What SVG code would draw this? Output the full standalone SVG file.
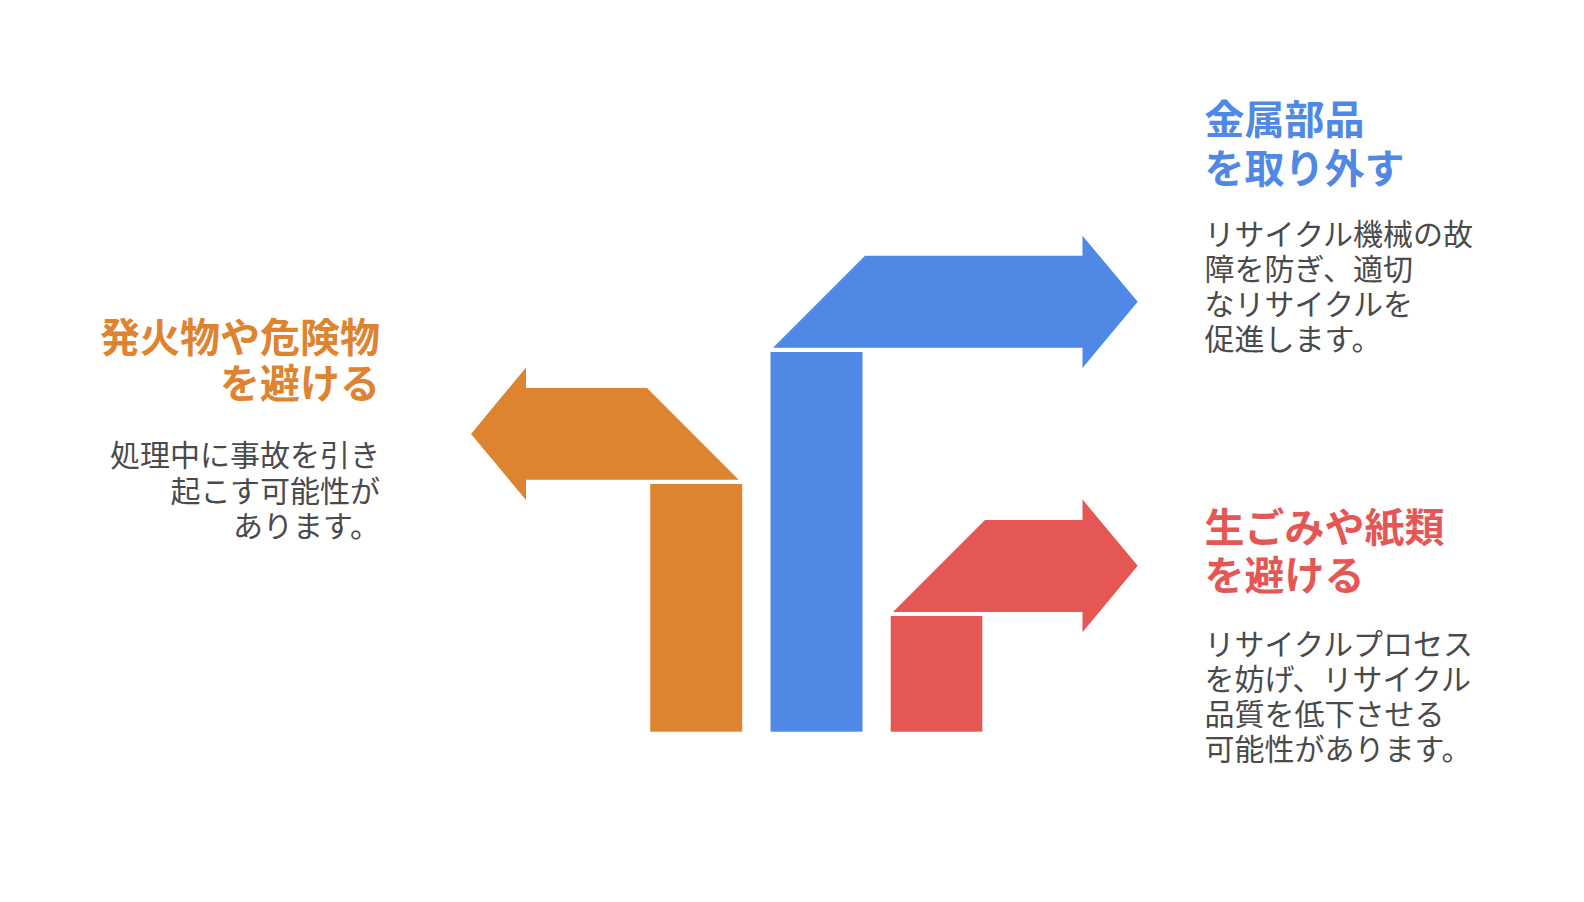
<svg xmlns="http://www.w3.org/2000/svg" width="1584" height="902" viewBox="0 0 1584 902">
<style>
.title{font-family:"Noto Sans CJK JP","Noto Sans",sans-serif;font-weight:700;font-size:40px}
.body{font-family:"Noto Sans CJK JP","Noto Sans",sans-serif;font-weight:400;font-size:30px;fill:#4a4a4a}
.o{fill:#de8431}.b{fill:#4f89e5}.r{fill:#e45755}
</style>
<rect width="1584" height="902" fill="#ffffff"/>
<g id="connectors">
<polygon class="o" points="647,388 526,388 526,367.5 471,434 526,500 526,479.7 738.7,479.7"/>
<polygon class="b" points="773,347.7 865,255.7 1082.5,255.7 1082.5,235.7 1137.7,301.7 1082.5,368 1082.5,347.7"/>
<polygon class="r" points="893,612 985,520 1082.5,520 1082.5,499.5 1137.7,565.8 1082.5,632.3 1082.5,612"/>
</g>
<g id="bar-orange"><rect class="o" x="650.2" y="484" width="92" height="247.7"/></g>
<g id="bar-blue"><rect class="b" x="770.5" y="352" width="92" height="379.7"/></g>
<g id="bar-red"><rect class="r" x="890.7" y="616" width="91.6" height="115.7"/></g>
<g id="node-orange" text-anchor="end">
<text class="title o" x="380" y="351.5">発火物や危険物</text>
<text class="title o" x="380" y="397.5">を避ける</text>
<text class="body" x="380" y="466">処理中に事故を引き</text>
<text class="body" x="380" y="501.5">起こす可能性が</text>
<text class="body" x="380" y="537">あります。</text>
</g>
<g id="node-blue">
<text class="title b" x="1204.5" y="134">金属部品</text>
<text class="title b" x="1204.5" y="183">を取り外す</text>
<text class="body" x="1204.5" y="245">リサイクル機械の故</text>
<text class="body" x="1204.5" y="280">障を防ぎ、適切</text>
<text class="body" x="1204.5" y="315">なリサイクルを</text>
<text class="body" x="1204.5" y="350">促進します。</text>
</g>
<g id="node-red">
<text class="title r" x="1204.5" y="542">生ごみや紙類</text>
<text class="title r" x="1204.5" y="590">を避ける</text>
<text class="body" x="1204.5" y="654.5">リサイクルプロセス</text>
<text class="body" x="1204.5" y="689.5">を妨げ、リサイクル</text>
<text class="body" x="1204.5" y="724.5">品質を低下させる</text>
<text class="body" x="1204.5" y="759.5">可能性があります。</text>
</g>
</svg>
